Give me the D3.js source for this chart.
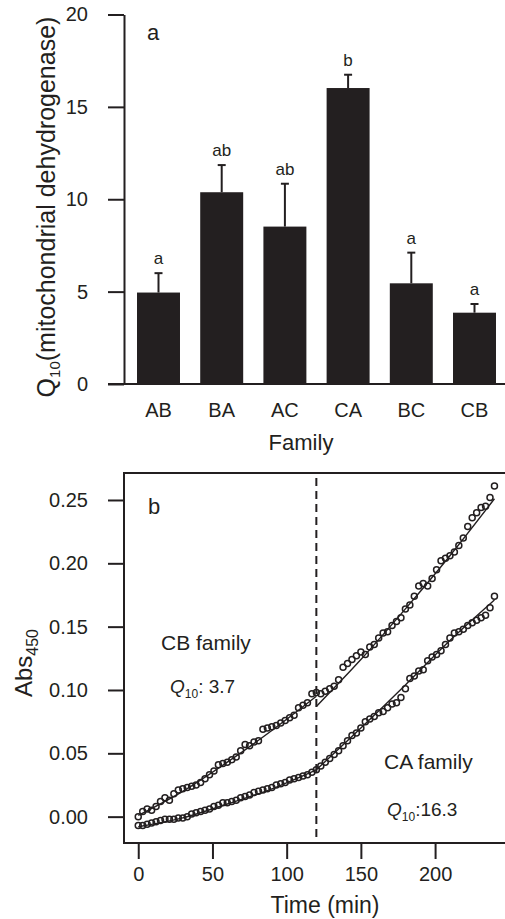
<!DOCTYPE html>
<html>
<head>
<meta charset="utf-8">
<script src="https://cdn.jsdelivr.net/npm/d3@7"></script>
<style>
  body { margin: 0; background: #fff; }
  text { font-family: "Liberation Sans", Arial, Helvetica, sans-serif; fill: #231f20; }
</style>
</head>
<body>
<div id="chart"></div>
<script>
(function () {

// panel a data
var categories = ['AB', 'BA', 'AC', 'CA', 'BC', 'CB'];
var q10Means = [4.95, 10.38, 8.52, 16.02, 5.45, 3.86];
var q10Errors = [1.05, 1.47, 2.32, 0.72, 1.66, 0.47];
var groupLetters = ['a', 'ab', 'ab', 'b', 'a', 'a'];
var yTicksA = [0, 5, 10, 15, 20];

// panel b data (abs 450 every 3 min)
var times = [0, 3, 6, 9, 12, 15, 18, 21, 24, 27, 30, 33, 36, 39, 42, 45, 48, 51, 54, 57,
  60, 63, 66, 69, 72, 75, 78, 81, 84, 87, 90, 93, 96, 99, 102, 105, 108, 111, 114, 117,
  120, 123, 126, 129, 132, 135, 138, 141, 144, 147, 150, 153, 156, 159, 162, 165, 168, 171, 174, 177,
  180, 183, 186, 189, 192, 195, 198, 201, 204, 207, 210, 213, 216, 219, 222, 225, 228, 231, 234, 237, 240];

var absCB = [0.000, 0.004, 0.006, 0.005, 0.008, 0.012, 0.015, 0.013, 0.018, 0.021,
  0.022, 0.023, 0.024, 0.025, 0.027, 0.030, 0.033, 0.036, 0.041, 0.042,
  0.043, 0.045, 0.047, 0.052, 0.057, 0.056, 0.059, 0.060, 0.069, 0.070,
  0.071, 0.072, 0.074, 0.076, 0.078, 0.080, 0.086, 0.088, 0.090, 0.097,
  0.098, 0.097, 0.099, 0.101, 0.103, 0.108, 0.118, 0.121, 0.124, 0.127,
  0.130, 0.128, 0.134, 0.136, 0.141, 0.145, 0.146, 0.151, 0.154, 0.157,
  0.164, 0.167, 0.174, 0.182, 0.184, 0.182, 0.188, 0.195, 0.202, 0.204,
  0.206, 0.209, 0.214, 0.220, 0.229, 0.236, 0.240, 0.244, 0.245, 0.252, 0.261];

var absCA = [-0.007, -0.007, -0.006, -0.005, -0.004, -0.003, -0.002, -0.002, -0.002, -0.001,
  -0.001, 0.000, 0.002, 0.003, 0.004, 0.005, 0.006, 0.008, 0.009, 0.011,
  0.011, 0.012, 0.013, 0.015, 0.016, 0.017, 0.019, 0.020, 0.021, 0.022,
  0.023, 0.025, 0.026, 0.027, 0.029, 0.030, 0.031, 0.032, 0.033, 0.035,
  0.037, 0.040, 0.043, 0.046, 0.049, 0.052, 0.056, 0.060, 0.064, 0.066,
  0.070, 0.075, 0.077, 0.079, 0.082, 0.083, 0.086, 0.089, 0.090, 0.094,
  0.101, 0.109, 0.111, 0.115, 0.116, 0.123, 0.126, 0.128, 0.131, 0.136,
  0.141, 0.145, 0.146, 0.148, 0.151, 0.153, 0.155, 0.157, 0.159, 0.165, 0.174];

// fitted curves, before and after the temperature shift at 120 min
var fitTimes1 = [0, 30, 60, 90, 120];
var fitTimes2 = [120, 150, 180, 210, 240];
var fitCB1 = [0.001, 0.020, 0.043, 0.068, 0.095];
var fitCB2 = [0.087, 0.124, 0.164, 0.206, 0.251];
var fitCA1 = [-0.008, -0.001, 0.010, 0.022, 0.037];
var fitCA2 = [0.037, 0.070, 0.104, 0.139, 0.171];

var shiftTime = 120;
var xTicksB = [0, 50, 100, 150, 200];
var yTicksB = [0, 0.05, 0.10, 0.15, 0.20, 0.25];

var ink = '#231f20';
var width = 505, height = 919;

var svg = d3.select('#chart')
  .append('svg')
  .attr('width', width)
  .attr('height', height);


// ---------- panel a : bar chart ----------

var xA = d3.scaleBand()
  .domain(categories)
  .range([126.9, 506.1])
  .paddingInner(0.32)
  .paddingOuter(0.16);

var yA = d3.scaleLinear()
  .domain([0, 20])
  .range([384, 14.5]);

var gA = svg.append('g');

// bars
gA.selectAll('.bar')
  .data(categories)
  .enter()
  .append('rect')
  .attr('class', 'bar')
  .attr('x', function (d) { return xA(d); })
  .attr('width', xA.bandwidth())
  .attr('y', function (d, i) { return yA(q10Means[i]); })
  .attr('height', function (d, i) { return yA(0) - yA(q10Means[i]); })
  .attr('fill', ink);

// error bars (upper only)
gA.selectAll('.err')
  .data(categories)
  .enter()
  .append('line')
  .attr('class', 'err')
  .attr('x1', function (d) { return xA(d) + xA.bandwidth() / 2; })
  .attr('x2', function (d) { return xA(d) + xA.bandwidth() / 2; })
  .attr('y1', function (d, i) { return yA(q10Means[i]); })
  .attr('y2', function (d, i) { return yA(q10Means[i] + q10Errors[i]); })
  .attr('stroke', ink)
  .attr('stroke-width', 2);

gA.selectAll('.cap')
  .data(categories)
  .enter()
  .append('line')
  .attr('class', 'cap')
  .attr('x1', function (d) { return xA(d) + xA.bandwidth() / 2 - 4; })
  .attr('x2', function (d) { return xA(d) + xA.bandwidth() / 2 + 4; })
  .attr('y1', function (d, i) { return yA(q10Means[i] + q10Errors[i]); })
  .attr('y2', function (d, i) { return yA(q10Means[i] + q10Errors[i]); })
  .attr('stroke', ink)
  .attr('stroke-width', 2);

// significance letters
gA.selectAll('.grp')
  .data(categories)
  .enter()
  .append('text')
  .attr('class', 'grp')
  .attr('x', function (d) { return xA(d) + xA.bandwidth() / 2; })
  .attr('y', function (d, i) { return yA(q10Means[i] + q10Errors[i]) - 9; })
  .attr('text-anchor', 'middle')
  .style('font-size', '17px')
  .text(function (d, i) { return groupLetters[i]; });

// y axis
var axisA = gA.append('g')
  .attr('transform', 'translate(124,0)')
  .call(d3.axisLeft(yA).tickValues(yTicksA).tickSize(16).tickPadding(20).tickSizeOuter(0));
axisA.select('.domain').attr('stroke', ink).attr('stroke-width', 2);
axisA.selectAll('.tick line').attr('stroke', ink).attr('stroke-width', 2);
axisA.selectAll('.tick text')
  .style('font-size', '20px')
  .style('font-family', '"Liberation Sans", Arial, sans-serif')
  .attr('fill', ink);

// baseline
gA.append('line')
  .attr('x1', 108)
  .attr('x2', width)
  .attr('y1', yA(0))
  .attr('y2', yA(0))
  .attr('stroke', ink)
  .attr('stroke-width', 2);

// category labels
gA.selectAll('.cat')
  .data(categories)
  .enter()
  .append('text')
  .attr('class', 'cat')
  .attr('x', function (d) { return xA(d) + xA.bandwidth() / 2; })
  .attr('y', 417)
  .attr('text-anchor', 'middle')
  .style('font-size', '20px')
  .text(function (d) { return d; });

gA.append('text')
  .attr('x', 301)
  .attr('y', 450)
  .attr('text-anchor', 'middle')
  .style('font-size', '22px')
  .text('Family');

// y title
var titleA = gA.append('text')
  .attr('transform', 'translate(55,207) rotate(-90)')
  .attr('text-anchor', 'middle')
  .style('font-size', '25px');
titleA.append('tspan').text('Q');
titleA.append('tspan').attr('dy', 5).style('font-size', '15px').text('10');
titleA.append('tspan').attr('dy', -5).text('(mitochondrial dehydrogenase)');

gA.append('text')
  .attr('x', 147)
  .attr('y', 40)
  .style('font-size', '22px')
  .text('a');


// ---------- panel b : absorbance time course ----------

var xB = d3.scaleLinear()
  .domain([-9.6, 249.6])
  .range([124, 508.7]);

var yB = d3.scaleLinear()
  .domain([-0.0208, 0.2713])
  .range([843, 473]);

var gB = svg.append('g');

// frame
gB.append('rect')
  .attr('x', xB.range()[0])
  .attr('y', yB.range()[1])
  .attr('width', xB.range()[1] - xB.range()[0])
  .attr('height', yB.range()[0] - yB.range()[1])
  .attr('fill', 'none')
  .attr('stroke', ink)
  .attr('stroke-width', 2);

// y axis
var axisBy = gB.append('g')
  .attr('transform', 'translate(124,0)')
  .call(d3.axisLeft(yB).tickValues(yTicksB).tickFormat(d3.format('.2f')).tickSize(16).tickPadding(20));
axisBy.select('.domain').remove();
axisBy.selectAll('.tick line').attr('stroke', ink).attr('stroke-width', 2);
axisBy.selectAll('.tick text')
  .style('font-size', '20px')
  .style('font-family', '"Liberation Sans", Arial, sans-serif')
  .attr('fill', ink);

// x axis
var axisBx = gB.append('g')
  .attr('transform', 'translate(0,843)')
  .call(d3.axisBottom(xB).tickValues(xTicksB).tickSize(16).tickPadding(8));
axisBx.select('.domain').remove();
axisBx.selectAll('.tick line').attr('stroke', ink).attr('stroke-width', 2);
axisBx.selectAll('.tick text')
  .style('font-size', '20px')
  .style('font-family', '"Liberation Sans", Arial, sans-serif')
  .attr('fill', ink);

// temperature shift
gB.append('line')
  .attr('x1', xB(shiftTime))
  .attr('x2', xB(shiftTime))
  .attr('y1', 478)
  .attr('y2', 843)
  .attr('stroke', ink)
  .attr('stroke-width', 2)
  .attr('stroke-dasharray', '8,5');

// fitted lines
var lineGen = d3.line()
  .x(function (d) { return xB(d[0]); })
  .y(function (d) { return yB(d[1]); })
  .curve(d3.curveMonotoneX);

[[fitTimes1, fitCB1], [fitTimes2, fitCB2], [fitTimes1, fitCA1], [fitTimes2, fitCA2]].forEach(function (f) {
  gB.append('path')
    .datum(d3.zip(f[0], f[1]))
    .attr('d', lineGen)
    .attr('fill', 'none')
    .attr('stroke', ink)
    .attr('stroke-width', 1.4);
});

// observed points
[absCB, absCA].forEach(function (series) {
  gB.append('g')
    .selectAll('circle')
    .data(d3.zip(times, series))
    .enter()
    .append('circle')
    .attr('cx', function (d) { return xB(d[0]); })
    .attr('cy', function (d) { return yB(d[1]); })
    .attr('r', 3)
    .attr('fill', 'none')
    .attr('stroke', ink)
    .attr('stroke-width', 1.5);
});

// annotations
gB.append('text')
  .attr('x', 148)
  .attr('y', 514)
  .style('font-size', '22px')
  .text('b');

gB.append('text')
  .attr('x', 161)
  .attr('y', 650)
  .style('font-size', '21px')
  .text('CB family');

gB.append('text')
  .attr('x', 384)
  .attr('y', 769)
  .style('font-size', '21px')
  .text('CA family');

function q10Label(x, y, value) {
  var t = gB.append('text')
    .attr('x', x)
    .attr('y', y)
    .style('font-size', '19px');
  t.append('tspan').style('font-style', 'italic').text('Q');
  t.append('tspan').attr('dy', 5).style('font-size', '12px').text('10');
  t.append('tspan').attr('dy', -5).text(value);
}
q10Label(170, 693, ': 3.7');
q10Label(387, 816, ':16.3');

// x title
gB.append('text')
  .attr('x', 325)
  .attr('y', 913)
  .attr('text-anchor', 'middle')
  .style('font-size', '23px')
  .text('Time (min)');

// y title
var titleB = gB.append('text')
  .attr('transform', 'translate(32,663) rotate(-90)')
  .attr('text-anchor', 'middle')
  .style('font-size', '24px');
titleB.append('tspan').text('Abs');
titleB.append('tspan').attr('dy', 6).style('font-size', '16px').text('450');

})();
</script>
</body>
</html>
